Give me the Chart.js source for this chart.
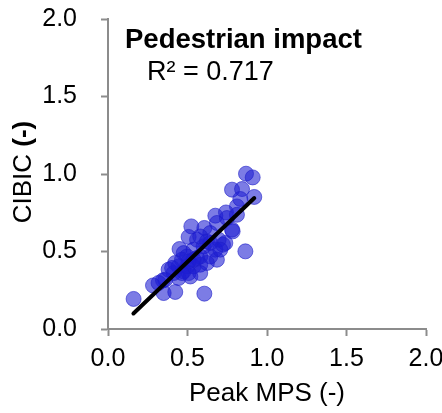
<!DOCTYPE html>
<html>
<head>
<meta charset="utf-8">
<script src="https://cdn.jsdelivr.net/npm/chart.js@4"></script>
<style>
  html, body { margin: 0; padding: 0; background: #ffffff; }
  #wrap { width: 442px; height: 413px; position: relative; }
</style>
</head>
<body>
<div id="wrap"><canvas id="chart"></canvas></div>
<script>
// Peak MPS vs CIBIC, pedestrian impact cases
const peakMPS = [0.161, 0.283, 0.346, 0.350, 0.423, 0.381, 0.450, 0.524, 0.507, 0.606,
                 0.606, 0.675, 0.742, 0.784, 0.864, 0.723, 0.780, 0.843, 0.868, 0.910,
                 0.920, 0.832, 0.811, 0.811, 0.685, 0.643, 0.560, 0.601, 0.675, 0.685,
                 0.643, 0.580, 0.538, 0.497, 0.465, 0.444, 0.476, 0.518, 0.444, 0.413,
                 0.538, 0.580, 0.622, 0.497, 0.507, 0.560, 0.476, 0.423, 0.403, 0.360,
                 0.318, 0.580, 0.622, 0.696, 0.738, 0.706, 0.748, 0.780, 0.643, 0.538,
                 0.580, 0.507, 0.465];
const cibic   = [0.194, 0.281, 0.314, 0.232, 0.239, 0.383, 0.516, 0.662, 0.594, 0.652,
                 0.228, 0.731, 0.752, 0.630, 0.501, 0.544, 0.899, 0.903, 1.002, 0.978,
                 0.852, 0.839, 0.791, 0.737, 0.684, 0.619, 0.576, 0.533, 0.512, 0.447,
                 0.468, 0.468, 0.512, 0.468, 0.447, 0.404, 0.372, 0.339, 0.329, 0.361,
                 0.404, 0.415, 0.426, 0.404, 0.436, 0.458, 0.490, 0.426, 0.394, 0.318,
                 0.297, 0.597, 0.565, 0.576, 0.555, 0.512, 0.716, 0.641, 0.555, 0.447,
                 0.361, 0.361, 0.361];

// Linear fit endpoints
const fitX = [0.16, 0.92];
const fitY = [0.10, 0.845];

// Axis ticks
const xTicks = [0.0, 0.5, 1.0, 1.5, 2.0];
const yTicks = [0.0, 0.5, 1.0, 1.5, 2.0];

const chartTitle = 'Pedestrian impact';
const r2Label = 'R\u00B2 = 0.717';
const yTitleMain = 'CIBIC ';
const yTitleUnit = '(-)';

const FONT = '"Liberation Sans", Arial, Helvetica, sans-serif';
const AXIS_GRAY = '#8c8c8c';

const points = peakMPS.map((x, i) => ({ x: x, y: cibic[i] }));
const fitLine = fitX.map((x, i) => ({ x: x, y: fitY[i] }));

// Heading, R² note and the rotated y-axis title (regular name, bold unit)
const annotations = {
  id: 'annotations',
  afterDraw(chart) {
    const ctx = chart.ctx;
    ctx.save();
    ctx.fillStyle = '#000';
    ctx.textBaseline = 'middle';
    ctx.textAlign = 'left';
    ctx.font = 'bold 27.5px ' + FONT;
    ctx.fillText(chartTitle, 125, 40);
    ctx.font = '27px ' + FONT;
    ctx.fillText(r2Label, 147, 73);

    const regular = '26px ' + FONT;
    const bold = 'bold 26px ' + FONT;
    ctx.font = regular;
    const w1 = ctx.measureText(yTitleMain).width;
    ctx.font = bold;
    const w2 = ctx.measureText(yTitleUnit).width;
    ctx.translate(24, 172);
    ctx.rotate(-Math.PI / 2);
    const start = -(w1 + w2) / 2;
    ctx.font = regular;
    ctx.fillText(yTitleMain, start, 0);
    ctx.font = bold;
    ctx.fillText(yTitleUnit, start + w1, 0);
    ctx.restore();
  }
};

// Fixed axis box sizes; end labels may overhang the plot area
function fixBox(size) {
  return function (scale) {
    if (scale.isHorizontal()) scale.height = size; else scale.width = size;
    scale.paddingTop = 0;
    scale.paddingBottom = 0;
    scale.paddingLeft = 0;
    scale.paddingRight = 0;
  };
}

function axis(tickValues, extra) {
  return Object.assign({
    type: 'linear',
    min: tickValues[0],
    max: tickValues[tickValues.length - 1],
    afterBuildTicks(scale) { scale.ticks = tickValues.map(v => ({ value: v })); },
    grid: {
      drawOnChartArea: false,
      drawTicks: true,
      tickLength: 7,
      tickWidth: 2,
      tickColor: AXIS_GRAY
    },
    border: { display: true, color: AXIS_GRAY, width: 2 },
  }, extra);
}

new Chart(document.getElementById('chart'), {
  type: 'scatter',
  data: {
    datasets: [
      {
        label: 'fit',
        data: fitLine,
        showLine: true,
        borderColor: '#000000',
        borderWidth: 4,
        borderCapStyle: 'round',
        pointRadius: 0,
        fill: false
      },
      {
        label: 'cases',
        data: points,
        pointRadius: 7.5,
        backgroundColor: 'rgba(30, 30, 210, 0.58)',
        borderColor: 'rgba(30, 30, 200, 0.6)',
        borderWidth: 1
      }
    ]
  },
  options: {
    responsive: true,
    maintainAspectRatio: false,
    animation: false,
    layout: { padding: { top: 19, right: 16, bottom: 0, left: 0 } },
    plugins: { legend: { display: false }, tooltip: { enabled: false } },
    scales: {
      x: axis(xTicks, {
        position: 'bottom',
        afterFit: fixBox(84),
        ticks: {
          color: '#000',
          padding: 8,
          maxRotation: 0,
          font: { family: FONT, size: 25 },
          callback: v => Number(v).toFixed(1)
        },
        title: {
          display: true,
          text: 'Peak MPS (-)',
          color: '#000',
          font: { family: FONT, size: 26 },
          padding: { top: 0, bottom: 4 }
        }
      }),
      y: axis(yTicks, {
        position: 'left',
        afterFit: fixBox(108),
        ticks: {
          color: '#000',
          padding: 24,
          font: { family: FONT, size: 25 },
          callback: v => Number(v).toFixed(1)
        }
      })
    }
  },
  plugins: [annotations]
});
</script>
</body>
</html>
